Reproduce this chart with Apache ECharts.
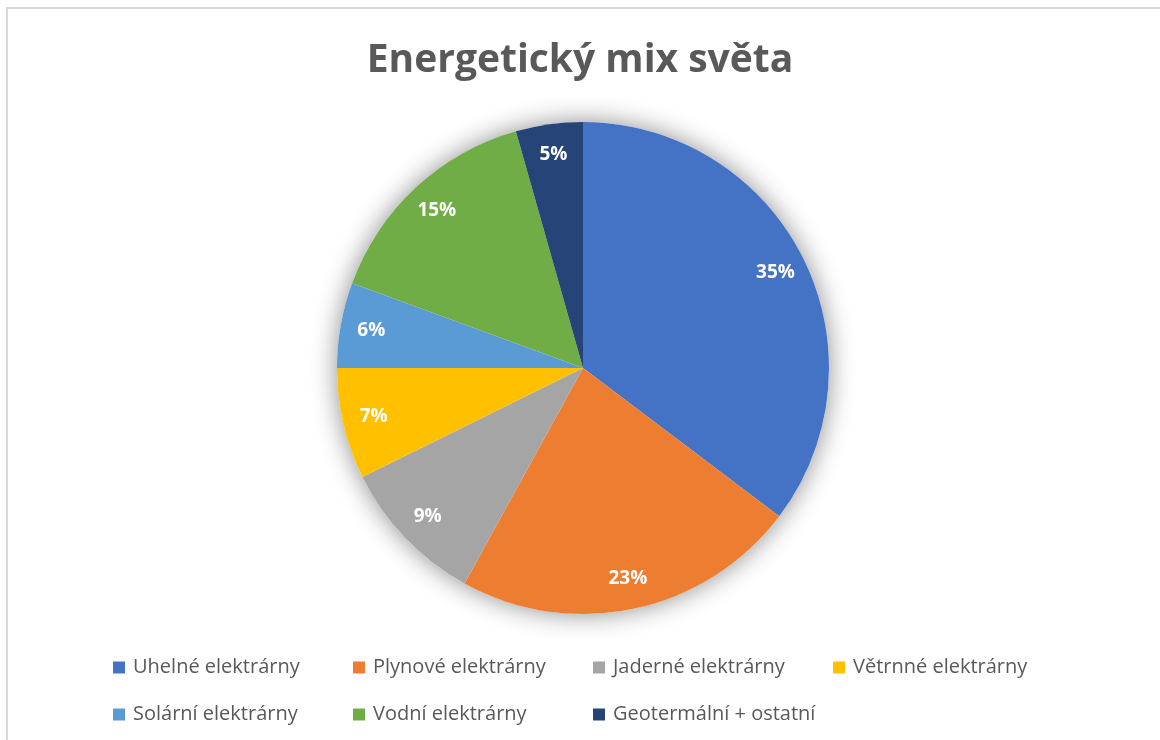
<!DOCTYPE html>
<html>
<head>
<meta charset="utf-8">
<script src="https://cdn.jsdelivr.net/npm/echarts@6/dist/echarts.min.js"></script>
<style>
html,body{margin:0;padding:0;background:#fff;}
#chart{width:1160px;height:740px;}
</style>
</head>
<body>
<div id="chart"></div>
<script>
const titleText = "Energetický mix světa";
const categories = ["Uhelné elektrárny","Plynové elektrárny","Jaderné elektrárny","Větrnné elektrárny","Solární elektrárny","Vodní elektrárny","Geotermální + ostatní"];
const values = [35.3, 22.7, 9.7, 7.3, 5.6, 15.0, 4.4];
const pctLabels = ["35%","23%","9%","7%","6%","15%","5%"];
const colors = ["#4472C4","#ED7D31","#A5A5A5","#FFC000","#5B9BD5","#70AD47","#264478"];

const total = values.reduce((a,b)=>a+b,0);
const chart = echarts.init(document.getElementById('chart'), null, {renderer:'canvas'});
const center = [583, 368];
const R = 246;
const font = '"Open Sans", "Noto Sans", sans-serif';

chart.setOption({
  animation:false,
  color: colors,
  graphic: [{
    type:'rect', z:-10, silent:true,
    shape:{x:7, y:8, width:1200, height:800},
    style:{fill:'#fff', stroke:'#d9d9d9', lineWidth:2}
  }],
  title:{
    text:titleText, left:'center', top:36,
    textStyle:{fontFamily:font, fontWeight:'bold', fontSize:39, color:'#595959'}
  },
  legend:{
    left:113, top:654, width:960, padding:0,
    icon:'rect', itemWidth:12, itemHeight:12, itemGap:20,
    data: categories,
    textStyle:{fontFamily:font, fontSize:20, color:'#595959', width:200, lineHeight:27, padding:[0,0,0,3]}
  },
  series:[
    {
      type:'pie', radius:[0,R], center:center, silent:true, z:1,
      startAngle:90, label:{show:false}, labelLine:{show:false},
      itemStyle:{color:'#ffffff', shadowBlur:26, shadowColor:'rgba(0,0,0,0.45)'},
      data:[{value: total, name:'_bg'}]
    },
    {
      type:'pie', radius:[0,R], center:center, z:2,
      startAngle:90, clockwise:true,
      label:{show:false}, labelLine:{show:false},
      data: categories.map((c,i)=>({name:c, value:values[i]}))
    },
    {
      type:'pie', radius:[178,R], center:center, z:3, silent:true,
      startAngle:90, clockwise:true, legendHoverLink:false,
      itemStyle:{color:'rgba(0,0,0,0)'},
      label:{show:true, position:'inside', color:'#fff', fontFamily:font, fontWeight:'bold', fontSize:19,
        formatter: p => pctLabels[p.dataIndex]},
      labelLine:{show:false},
      data: categories.map((c,i)=>({name:c+' ', value:values[i]}))
    }
  ]
});
</script>
</body>
</html>
